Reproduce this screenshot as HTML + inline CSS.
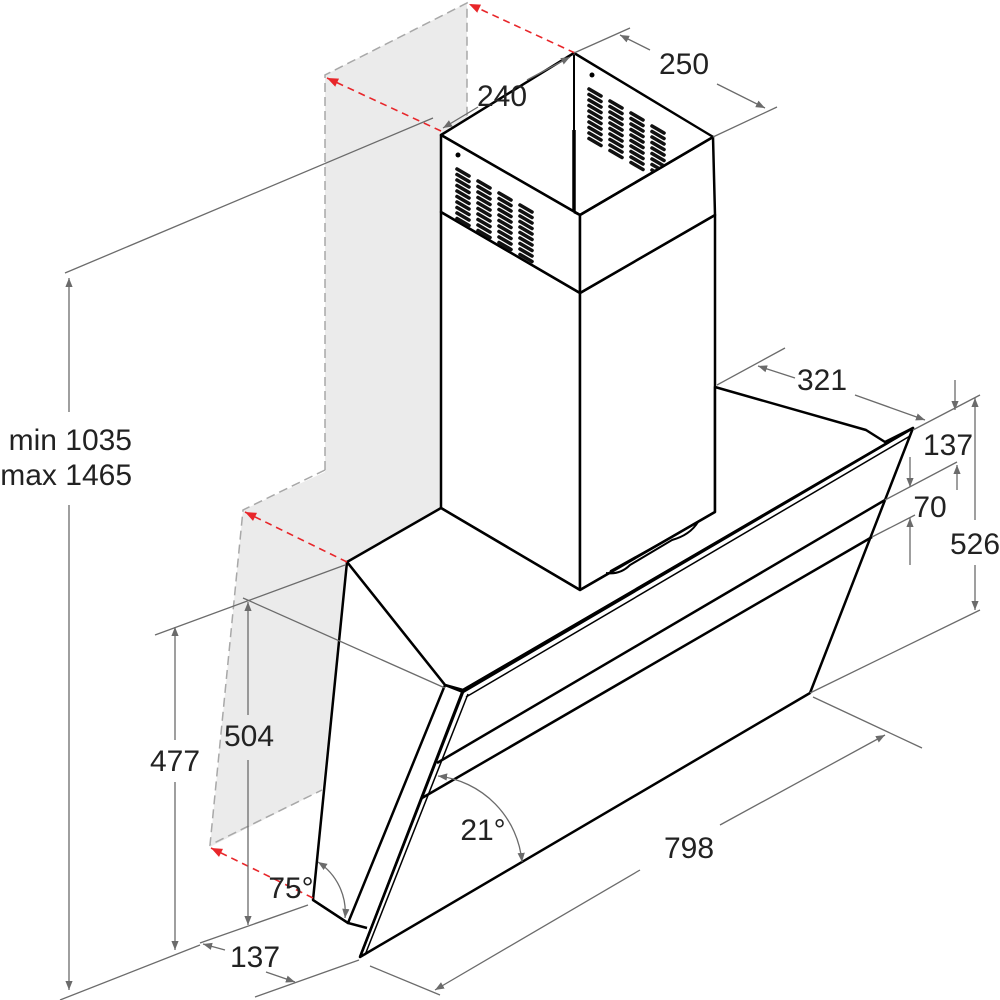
<!DOCTYPE html>
<html><head><meta charset="utf-8"><style>
html,body{margin:0;padding:0;background:#fff}
svg{display:block}
text{font-family:"Liberation Sans",Arial,sans-serif;font-size:30px;fill:#222}
</style></head><body>
<svg width="1000" height="1000" viewBox="0 0 1000 1000" xmlns="http://www.w3.org/2000/svg">
<defs>
<marker id="ag" viewBox="0 0 10 10" refX="10" refY="5" markerWidth="7" markerHeight="7" orient="auto-start-reverse"><path d="M0,1 L10,5 L0,9 Z" fill="#6b6b6b"/></marker>
<marker id="ar" viewBox="0 0 10 10" refX="10" refY="5" markerWidth="7" markerHeight="7" orient="auto-start-reverse"><path d="M0,1 L10,5 L0,9 Z" fill="#e8262a"/></marker>
<g id="col">
<line x1="0" y1="0" x2="12" y2="7"/><line x1="0" y1="5.5" x2="12" y2="12.5"/><line x1="0" y1="11" x2="12" y2="18"/><line x1="0" y1="16.5" x2="12" y2="23.5"/><line x1="0" y1="22" x2="12" y2="29"/><line x1="0" y1="27.5" x2="12" y2="34.5"/><line x1="0" y1="33" x2="12" y2="40"/><line x1="0" y1="38.5" x2="12" y2="45.5"/><line x1="0" y1="44" x2="12" y2="51"/><line x1="0" y1="49.5" x2="12" y2="56.5"/>
</g>
<clipPath id="cl"><polygon points="441,135 580,215 580,293 441,212"/></clipPath>
<clipPath id="cr"><polygon points="574,53 713,137 580,213 574,210"/></clipPath>
</defs>

<!-- wall -->
<polygon points="325,75 467,3 467,140 441,135 441,508 347,562 322,790 210,847 243,510 325,472" fill="#ebebeb"/>
<g stroke="#a8a8a8" stroke-width="1.5" stroke-dasharray="9,5" fill="none">
<polyline points="325,470 325,75 467,3 467,140"/>
<polyline points="325,470 243,510 210,845 322,790"/>
</g>

<!-- chimney -->
<g stroke="#000" stroke-width="2.5" fill="#fff" stroke-linejoin="round">
<polygon points="441,135 574,53 713,137 580,215"/>
<polygon points="441,212 580,293 580,590 441,508"/>
<polygon points="580,293 715,215 715,512 580,590"/>
<polygon points="441,135 580,215 580,293 441,212"/>
<polygon points="580,215 713,137 715,215 580,293"/>
</g>
<polygon points="576,56 711,137 580,213 576,210" fill="#fff"/>
<line x1="574" y1="55" x2="574" y2="212" stroke="#000" stroke-width="2"/>
<line x1="574" y1="130" x2="574" y2="212" stroke="#000" stroke-width="3.5"/>
<polyline points="574,212 580,215 713,137" fill="none" stroke="#000" stroke-width="2.5"/>
<g stroke="#111" stroke-width="3.6" stroke-linecap="round" fill="none">
<g clip-path="url(#cl)">
<use href="#col" x="457" y="169"/><use href="#col" x="478" y="181"/><use href="#col" x="499" y="193"/><use href="#col" x="520" y="205"/>
</g>
<g clip-path="url(#cr)">
<use href="#col" x="589" y="89"/><use href="#col" x="610" y="101"/><use href="#col" x="631" y="113"/><use href="#col" x="652" y="126"/>
</g>
</g>
<circle cx="458" cy="155" r="2.5" fill="#000"/><circle cx="592" cy="75" r="2.5" fill="#000"/>

<!-- hood -->
<g stroke="#000" stroke-width="2.5" fill="#fff" stroke-linejoin="round">
<polygon points="347,562 441,508 580,590 715,512 715,387 866,430 885,442 913,428 463,690 445,685"/>
<polygon points="347,562 445,685 348,923 313,900"/>
<polygon points="463,690 913,428 810,693 360,957"/>
</g>
<polyline points="313,900 348,923 367,928" fill="none" stroke="#000" stroke-width="2.5"/>
<line x1="445" y1="685" x2="348" y2="923" stroke="#000" stroke-width="1.5"/>
<polyline points="445,685 463,692 913,428" fill="none" stroke="#000" stroke-width="2.5"/>
<line x1="466" y1="697" x2="910" y2="436" stroke="#000" stroke-width="1.5"/>
<line x1="463" y1="692" x2="360" y2="957" stroke="#000" stroke-width="2.5"/>
<line x1="468" y1="694" x2="365" y2="955" stroke="#000" stroke-width="1.5"/>
<line x1="437" y1="763" x2="885" y2="500" stroke="#000" stroke-width="2.5"/>
<line x1="422" y1="798" x2="872" y2="537" stroke="#000" stroke-width="2.5"/>
<path d="M606,573 Q620,575 630,565 L672,540 Q690,535 698,522" fill="none" stroke="#000" stroke-width="2"/>
<line x1="610" y1="571" x2="698" y2="522" stroke="#000" stroke-width="1.5"/>

<!-- red dashed -->
<g stroke="#e8262a" stroke-width="1.6" stroke-dasharray="7,5" fill="none">
<line x1="575" y1="53" x2="469" y2="4" marker-end="url(#ar)"/>
<line x1="441" y1="131" x2="327" y2="78" marker-end="url(#ar)"/>
<line x1="347" y1="562" x2="245" y2="512" marker-end="url(#ar)"/>
<line x1="313" y1="898" x2="211" y2="848" marker-end="url(#ar)"/>
</g>

<!-- dimension lines -->
<g stroke="#6b6b6b" stroke-width="1.3" fill="none">
<line x1="65" y1="273" x2="433" y2="118"/>
<line x1="69" y1="278" x2="69" y2="412" marker-start="url(#ag)"/>
<line x1="69" y1="505" x2="69" y2="990" marker-end="url(#ag)"/>
<line x1="60" y1="1000" x2="200" y2="945"/>
<line x1="155" y1="635" x2="345" y2="565"/>
<line x1="175" y1="627" x2="175" y2="740" marker-start="url(#ag)"/>
<line x1="175" y1="782" x2="175" y2="950" marker-end="url(#ag)"/>
<line x1="243" y1="598" x2="445" y2="688"/>
<line x1="248" y1="602" x2="248" y2="715" marker-start="url(#ag)"/>
<line x1="248" y1="760" x2="248" y2="925" marker-end="url(#ag)"/>
<line x1="200" y1="943" x2="308" y2="905"/>
<line x1="255" y1="997" x2="359" y2="960"/>
<line x1="225" y1="950" x2="203" y2="944" marker-end="url(#ag)"/>
<line x1="266" y1="972" x2="295" y2="982" marker-end="url(#ag)"/>
<line x1="370" y1="966" x2="440" y2="995"/>
<line x1="813" y1="697" x2="922" y2="748"/>
<line x1="640" y1="870" x2="435" y2="990" marker-end="url(#ag)"/>
<line x1="720" y1="825" x2="885" y2="735" marker-end="url(#ag)"/>
<path d="M438,776 A95,95 0 0 1 522,862" marker-start="url(#ag)" marker-end="url(#ag)"/>
<path d="M318,862 A60,60 0 0 1 345,918" marker-start="url(#ag)" marker-end="url(#ag)"/>
<line x1="574" y1="53" x2="630" y2="28"/>
<line x1="527" y1="80" x2="570" y2="57" marker-end="url(#ag)"/>
<line x1="478" y1="107" x2="443" y2="128" marker-end="url(#ag)"/>
<line x1="713" y1="137" x2="777" y2="107"/>
<line x1="650" y1="50" x2="620" y2="35" marker-end="url(#ag)"/>
<line x1="717" y1="84" x2="765" y2="108" marker-end="url(#ag)"/>
<line x1="717" y1="385" x2="785" y2="348"/>
<line x1="795" y1="378" x2="758" y2="366" marker-end="url(#ag)"/>
<line x1="855" y1="395" x2="925" y2="420" marker-end="url(#ag)"/>
<line x1="913" y1="430" x2="980" y2="395"/>
<line x1="885" y1="500" x2="957" y2="462"/>
<line x1="872" y1="537" x2="915" y2="515"/>
<line x1="810" y1="693" x2="980" y2="610"/>
<line x1="955" y1="380" x2="955" y2="410" marker-end="url(#ag)"/>
<line x1="957" y1="490" x2="957" y2="465" marker-end="url(#ag)"/>
<line x1="910" y1="457" x2="910" y2="487" marker-end="url(#ag)"/>
<line x1="910" y1="565" x2="910" y2="518" marker-end="url(#ag)"/>
<line x1="975" y1="520" x2="975" y2="398" marker-end="url(#ag)"/>
<line x1="975" y1="565" x2="975" y2="610" marker-end="url(#ag)"/>
</g>

<!-- labels -->
<text x="132" y="450" text-anchor="end">min 1035</text>
<text x="132" y="485" text-anchor="end">max 1465</text>
<text x="175" y="771" text-anchor="middle">477</text>
<text x="249" y="746" text-anchor="middle">504</text>
<text x="255" y="967" text-anchor="middle">137</text>
<text x="291" y="898" text-anchor="middle">75°</text>
<text x="483" y="840" text-anchor="middle">21°</text>
<text x="689" y="858" text-anchor="middle">798</text>
<text x="502" y="106" text-anchor="middle">240</text>
<text x="684" y="74" text-anchor="middle">250</text>
<text x="822" y="390" text-anchor="middle">321</text>
<text x="948" y="455" text-anchor="middle">137</text>
<text x="930" y="517" text-anchor="middle">70</text>
<text x="975" y="554" text-anchor="middle">526</text>
</svg>
</body></html>
